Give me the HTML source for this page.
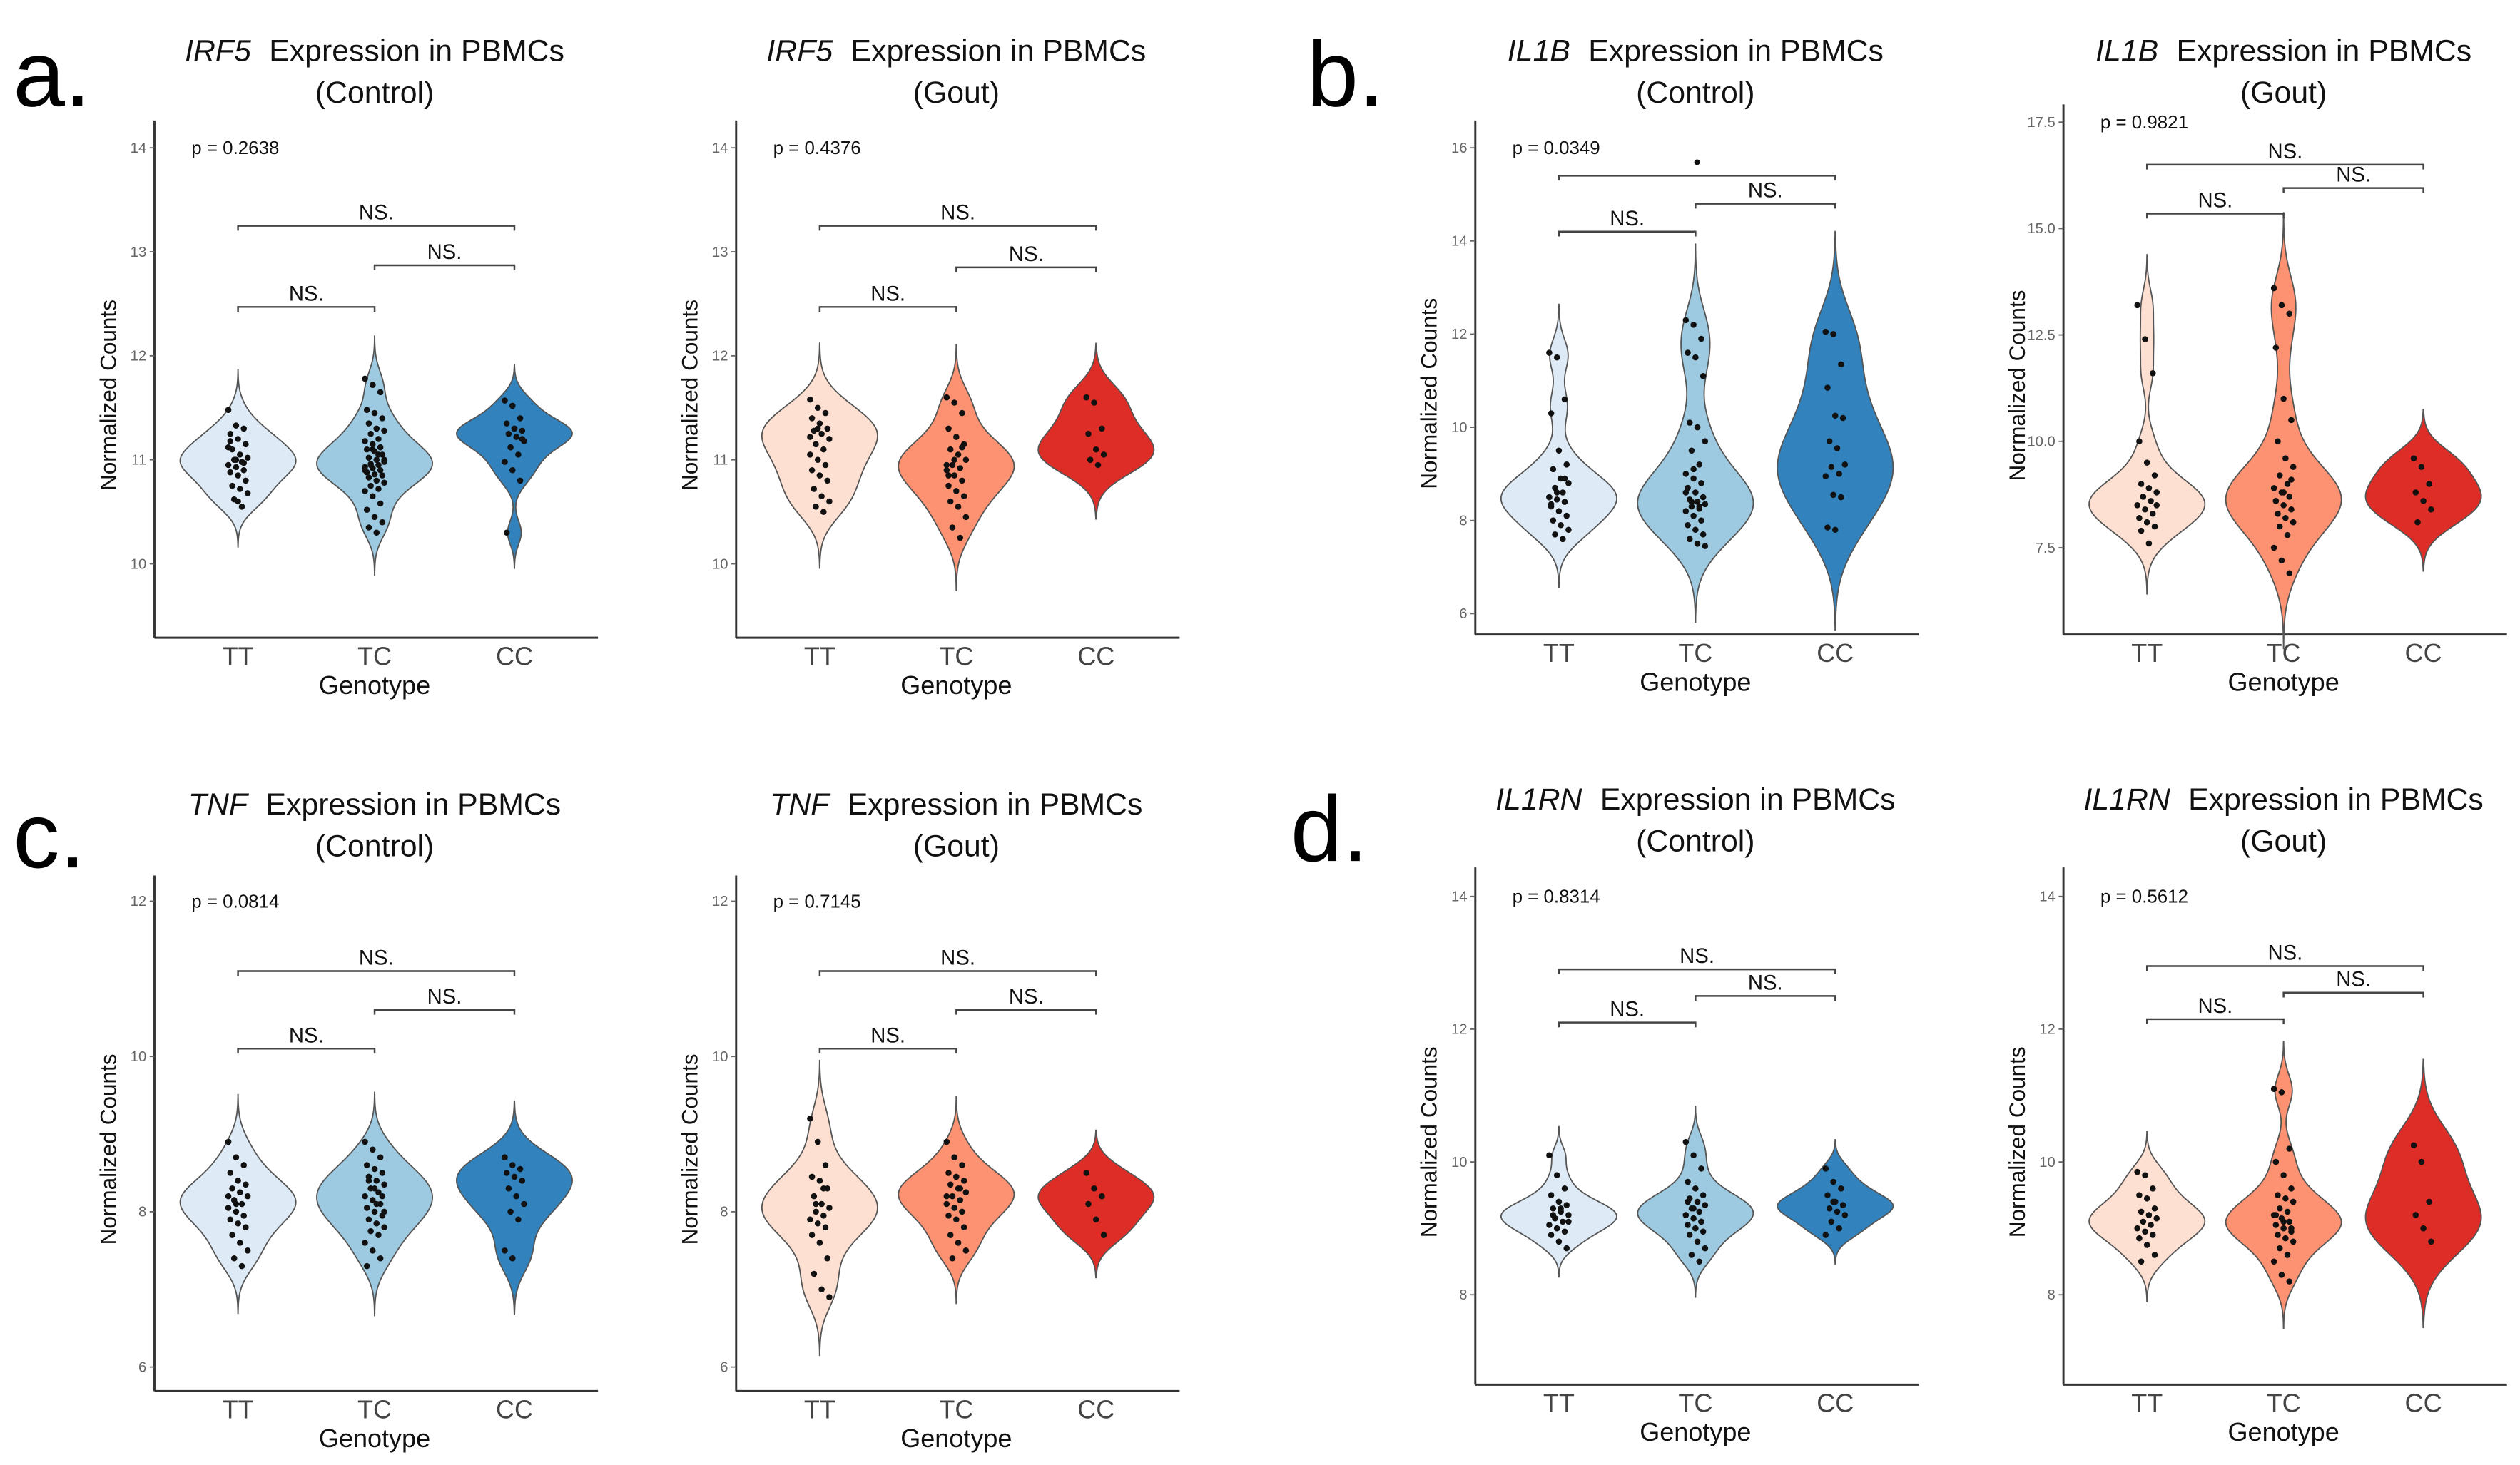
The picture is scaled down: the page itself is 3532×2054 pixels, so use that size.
<!DOCTYPE html>
<html><head><meta charset="utf-8">
<style>
html,body{margin:0;padding:0;background:#fff;}
svg{display:block;}
text{font-family:"Liberation Sans",sans-serif;}
</style></head>
<body>
<svg id="fig" xmlns="http://www.w3.org/2000/svg" width="3532" height="2054" viewBox="0 0 1568 912">
<rect width="1568" height="912" fill="#fff"/>
<text x="8" y="66" font-size="58">a.</text>
<text x="813" y="66" font-size="58">b.</text>
<text x="8" y="540" font-size="58">c.</text>
<text x="803" y="536" font-size="58">d.</text>
</svg>
<script>
const categories = ["TT","TC","CC"];
// IRF5 control
const irf5CtrlTT=[11.48,11.33,11.3,11.25,11.2,11.15,11.1,11.05,11.02,11.0,10.98,10.95,10.93,10.9,10.88,10.85,10.8,10.75,10.72,10.68,10.62,10.55,11.12,11.0,10.97,11.18,10.6];
const irf5CtrlTC=[11.78,11.72,11.65,11.48,11.45,11.4,11.35,11.3,11.28,11.25,11.2,11.18,11.15,11.12,11.1,11.08,11.05,11.02,11.0,10.98,10.96,10.95,10.93,10.92,10.9,10.88,10.86,10.85,10.83,10.8,10.78,10.75,10.72,10.7,10.65,10.58,10.52,10.45,10.4,10.35,10.3,11.0,10.95,11.05,10.9,11.1];
const irf5CtrlCC=[11.57,11.52,11.4,11.35,11.3,11.28,11.25,11.22,11.18,11.12,11.05,10.98,10.9,10.8,10.3,11.3,11.2];
// IRF5 gout
const irf5GoutTT=[11.58,11.5,11.45,11.4,11.35,11.3,11.28,11.25,11.2,11.15,11.1,11.05,11.0,10.95,10.9,10.85,10.8,10.72,10.65,10.6,10.55,10.5,11.22,11.3];
const irf5GoutTC=[11.6,11.55,11.45,11.3,11.22,11.15,11.1,11.05,11.0,10.95,10.92,10.9,10.85,10.8,10.75,10.7,10.65,10.6,10.55,10.45,10.35,10.25,10.95,11.0,11.12,10.85];
const irf5GoutCC=[11.6,11.55,11.3,11.25,11.1,11.05,11.0,10.95];
// IL1B control
const il1bCtrlTT=[11.6,11.5,10.6,10.3,9.5,9.2,9.1,8.9,8.8,8.7,8.6,8.5,8.45,8.4,8.3,8.2,8.1,8.0,7.9,7.8,7.7,7.6,8.5,8.6,8.9,8.35];
const il1bCtrlTC=[12.3,12.2,11.9,11.6,11.5,11.1,10.1,10.0,9.7,9.5,9.2,9.0,8.9,8.8,8.7,8.6,8.5,8.45,8.4,8.35,8.3,8.25,8.2,8.1,8.0,7.9,7.8,7.7,7.6,7.5,7.45,8.4,8.3,8.6,9.1];
const il1bCtrlCC=[12.05,12.0,11.35,10.85,10.25,10.2,9.7,9.55,9.2,9.15,9.0,8.95,8.55,8.5,7.85,7.8];
const il1bCtrlOutlierTC=[15.9];
// IL1B gout
const il1bGoutTT=[13.2,12.4,11.6,10.0,9.5,9.2,9.0,8.9,8.8,8.7,8.6,8.5,8.4,8.3,8.2,8.1,8.0,7.9,7.6,8.5,8.7];
const il1bGoutTC=[13.6,13.2,13.0,12.2,11.0,10.5,10.0,9.6,9.4,9.2,9.0,8.9,8.8,8.7,8.6,8.5,8.4,8.3,8.2,8.1,8.0,7.8,7.5,7.2,6.9,8.6,8.8,9.1];
const il1bGoutCC=[9.6,9.4,9.0,8.8,8.6,8.4,8.1];
// TNF control
const tnfCtrlTT=[8.9,8.7,8.6,8.5,8.4,8.35,8.3,8.25,8.2,8.15,8.1,8.05,8.0,7.95,7.9,7.85,7.8,7.7,7.6,7.5,7.4,7.3,8.2,8.1];
const tnfCtrlTC=[8.9,8.8,8.7,8.6,8.55,8.5,8.45,8.4,8.35,8.3,8.25,8.2,8.15,8.1,8.05,8.0,7.95,7.9,7.85,7.8,7.75,7.7,7.6,7.5,7.4,7.3,8.3,8.2,8.4,8.1,8.0];
const tnfCtrlCC=[8.7,8.6,8.55,8.5,8.45,8.4,8.3,8.2,8.1,8.0,7.9,7.5,7.4];
// TNF gout
const tnfGoutTT=[9.2,8.9,8.6,8.45,8.4,8.3,8.2,8.1,8.05,8.0,7.95,7.9,7.85,7.8,7.7,7.6,7.4,7.2,7.0,6.9,8.1,8.3];
const tnfGoutTC=[8.9,8.7,8.6,8.5,8.45,8.4,8.35,8.3,8.25,8.2,8.15,8.1,8.05,8.0,7.95,7.9,7.8,7.7,7.6,7.5,7.4,8.3,8.2];
const tnfGoutCC=[8.5,8.3,8.2,8.1,7.9,7.7];
// IL1RN control
const il1rnCtrlTT=[10.1,9.8,9.6,9.5,9.4,9.35,9.3,9.25,9.2,9.15,9.1,9.05,9.0,8.95,8.9,8.8,8.7,9.2,9.3,9.1];
const il1rnCtrlTC=[10.3,10.1,9.9,9.7,9.6,9.5,9.45,9.4,9.35,9.3,9.25,9.2,9.15,9.1,9.05,9.0,8.95,8.9,8.8,8.7,8.6,8.5,9.2,9.3,9.1,9.4];
const il1rnCtrlCC=[9.9,9.7,9.6,9.5,9.4,9.35,9.3,9.25,9.2,9.1,9.0,8.9,9.4];
// IL1RN gout
const il1rnGoutTT=[9.85,9.8,9.6,9.5,9.45,9.3,9.25,9.2,9.15,9.1,9.05,9.0,8.95,8.9,8.85,8.75,8.6,8.5,9.2];
const il1rnGoutTC=[11.1,11.05,10.2,10.0,9.8,9.6,9.5,9.45,9.4,9.3,9.25,9.2,9.15,9.1,9.05,9.0,8.95,8.9,8.85,8.8,8.7,8.6,8.5,8.3,8.2,9.2,9.1,9.0];
const il1rnGoutCC=[10.25,10.0,9.4,9.2,9.0,8.8];

const pValues=["0.2638","0.4376","0.0349","0.9821","0.0814","0.7145","0.8314","0.5612"];
const ticksIRF5=[10,11,12,13,14];
const ticksIL1BCtrl=[6,8,10,12,14,16];
const ticksIL1BGout=[7.5,10,12.5,15,17.5];
const tickLabelsIL1BGout=["7.5","10.0","12.5","15.0","17.5"];
const ticksTNF=[6,8,10,12];
const ticksIL1RN=[8,10,12,14];
// bracket heights in data units: [TT-CC, TC-CC, TT-TC]
const bracketsIRF5Ctrl=[13.25,12.87,12.47];
const bracketsIRF5Gout=[13.25,12.85,12.47];
const bracketsIL1BCtrl=[15.4,14.8,14.2];
const bracketsIL1BGout=[16.5,15.95,15.35];
const bracketsTNFCtrl=[11.1,10.6,10.1];
const bracketsTNFGout=[11.1,10.6,10.1];
const bracketsIL1RNCtrl=[12.9,12.5,12.1];
const bracketsIL1RNGout=[12.95,12.55,12.15];
const labelsDefault=["NS.","NS.","NS."];
const labelsIL1BCtrl=["•","NS.","NS."];

const blues=["#deebf7","#9ecae1","#3182bd"];
const reds=["#fee0d2","#fc9272","#de2d26"];

const panels=[
 {id:"irf5-control",gene:"IRF5",grp:"(Control)",x0:96,yt:75,yb:397,vA:14,yA:92,vB:10,yB:351,ticks:ticksIRF5,labels:null,data:[irf5CtrlTT,irf5CtrlTC,irf5CtrlCC],col:blues,p:pValues[0],br:bracketsIRF5Ctrl,bl:labelsDefault,ty:31},
 {id:"irf5-gout",gene:"IRF5",grp:"(Gout)",x0:458,yt:75,yb:397,vA:14,yA:92,vB:10,yB:351,ticks:ticksIRF5,labels:null,data:[irf5GoutTT,irf5GoutTC,irf5GoutCC],col:reds,p:pValues[1],br:bracketsIRF5Gout,bl:labelsDefault,ty:31},
 {id:"il1b-control",gene:"IL1B",grp:"(Control)",x0:918,yt:75,yb:395,vA:16,yA:92,vB:6,yB:382,ticks:ticksIL1BCtrl,labels:null,data:[il1bCtrlTT,il1bCtrlTC,il1bCtrlCC],col:blues,p:pValues[2],br:bracketsIL1BCtrl,bl:labelsIL1BCtrl,ty:31},
 {id:"il1b-gout",gene:"IL1B",grp:"(Gout)",x0:1284,yt:65,yb:395,vA:17.5,yA:76,vB:7.5,yB:341,ticks:ticksIL1BGout,labels:tickLabelsIL1BGout,data:[il1bGoutTT,il1bGoutTC,il1bGoutCC],col:reds,p:pValues[3],br:bracketsIL1BGout,bl:labelsDefault,ty:31},
 {id:"tnf-control",gene:"TNF",grp:"(Control)",x0:96,yt:545,yb:866,vA:12,yA:561,vB:6,yB:851,ticks:ticksTNF,labels:null,data:[tnfCtrlTT,tnfCtrlTC,tnfCtrlCC],col:blues,p:pValues[4],br:bracketsTNFCtrl,bl:labelsDefault,ty:500},
 {id:"tnf-gout",gene:"TNF",grp:"(Gout)",x0:458,yt:545,yb:866,vA:12,yA:561,vB:6,yB:851,ticks:ticksTNF,labels:null,data:[tnfGoutTT,tnfGoutTC,tnfGoutCC],col:reds,p:pValues[5],br:bracketsTNFGout,bl:labelsDefault,ty:500},
 {id:"il1rn-control",gene:"IL1RN",grp:"(Control)",x0:918,yt:540,yb:862,vA:14,yA:558,vB:8,yB:806,ticks:ticksIL1RN,labels:null,data:[il1rnCtrlTT,il1rnCtrlTC,il1rnCtrlCC],col:blues,p:pValues[6],br:bracketsIL1RNCtrl,bl:labelsDefault,ty:497},
 {id:"il1rn-gout",gene:"IL1RN",grp:"(Gout)",x0:1284,yt:540,yb:862,vA:14,yA:558,vB:8,yB:806,ticks:ticksIL1RN,labels:null,data:[il1rnGoutTT,il1rnGoutTC,il1rnGoutCC],col:reds,p:pValues[7],br:bracketsIL1RNGout,bl:labelsDefault,ty:497}
];

const NS="http://www.w3.org/2000/svg";
const svg=document.getElementById("fig");
function mk(tag,attrs,parent){const e=document.createElementNS(NS,tag);for(const k in attrs)e.setAttribute(k,attrs[k]);(parent||svg).appendChild(e);return e;}
const catOffsets=[52,137,224];

function kde(vals){
  const n=vals.length;const m=vals.reduce((a,b)=>a+b,0)/n;
  const sd=Math.sqrt(vals.reduce((a,b)=>a+(b-m)*(b-m),0)/(n-1));
  const s=[...vals].sort((a,b)=>a-b);
  const q=p=>{const i=(n-1)*p,lo=Math.floor(i),hi=Math.ceil(i);return s[lo]+(s[hi]-s[lo])*(i-lo);};
  const iqr=q(0.75)-q(0.25);
  let bw=1.2*0.9*Math.min(sd,iqr/1.34||sd)*Math.pow(n,-0.2);
  const lo=s[0]-3*bw,hi=s[n-1]+3*bw;const pts=[];
  for(let i=0;i<=100;i++){const v=lo+(hi-lo)*i/100;let d=0;for(const x of vals){const z=(v-x)/bw;d+=Math.exp(-0.5*z*z);}pts.push([v,d]);}
  const mx=Math.max(...pts.map(p=>p[1]));return pts.map(p=>[p[0],p[1]/mx]);
}

panels.forEach((P,pi)=>{
  const g=mk("g",{});
  
  
  const k=(P.yB-P.yA)/(P.vB-P.vA);
  const y=v=>P.yA+(v-P.vA)*k;
  const xc=i=>P.x0+catOffsets[i];
  const cx=P.x0+137;
  const t1=mk("text",{x:cx,y:P.ty+7,"font-size":19,"text-anchor":"middle",fill:"#111"},g);
  
  
  const ts=mk("tspan",{"font-style":"italic"},t1);ts.textContent=P.gene;
  const ts2=mk("tspan",{dx:6},t1);ts2.textContent=" Expression in PBMCs";
  const t2=mk("text",{x:cx,y:P.ty+33,"font-size":19,"text-anchor":"middle",fill:"#111"},g);
  
  
  t2.textContent=P.grp;
  const ya=mk("line",{x1:P.x0,y1:P.yt,x2:P.x0,y2:P.yb,stroke:"#333","stroke-width":1.3},g);
  
  
  const xa=mk("line",{x1:P.x0,y1:P.yb,x2:P.x0+276,y2:P.yb,stroke:"#333","stroke-width":1.3},g);
  
  
  P.ticks.forEach((tv,ti)=>{
    const tl=mk("text",{x:P.x0-5,y:y(tv)+3,"font-size":9,"text-anchor":"end",fill:"#666"},g);
    
    
    tl.textContent=P.labels?P.labels[ti]:String(tv);
    mk("line",{x1:P.x0-3,y1:y(tv),x2:P.x0,y2:y(tv),stroke:"#666","stroke-width":0.8},g);
  });
  const yt=mk("text",{transform:`translate(${P.x0-24},${(P.yt+P.yb)/2+10}) rotate(-90)`,"font-size":14,"text-anchor":"middle",fill:"#111"},g);
  
  
  yt.textContent="Normalized Counts";
  categories.forEach((c,i)=>{
    const xl=mk("text",{x:xc(i),y:P.yb+17,"font-size":16,"text-anchor":"middle",fill:"#444"},g);
    
    
    xl.textContent=c;
  });
  const xt=mk("text",{x:cx,y:P.yb+35,"font-size":16,"text-anchor":"middle",fill:"#111"},g);
  
  
  xt.textContent="Genotype";
  const pv=mk("text",{x:P.x0+23,y:P.yA+4,"font-size":11.5,fill:"#111"},g);
  
  
  pv.textContent="p = "+P.p;
  P.data.forEach((vals,i)=>{
    const d=kde(vals);const W=36;
    let path="M"+d.map(p=>`${(xc(i)+p[1]*W).toFixed(2)},${y(p[0]).toFixed(2)}`).join("L");
    path+="L"+d.slice().reverse().map(p=>`${(xc(i)-p[1]*W).toFixed(2)},${y(p[0]).toFixed(2)}`).join("L")+"Z";
    const v=mk("path",{d:path,fill:P.col[i],stroke:"#555","stroke-width":0.8},g);
    
    
    vals.forEach((val,j)=>{
      const jit=(((j*37)%11)/10-0.5)*12;
      const c=mk("circle",{cx:xc(i)+jit,cy:y(val),r:1.9,fill:"#111"},g);
      
      
    });
  });
  const pairs=[[0,2],[1,2],[0,1]];
  pairs.forEach((pr,bi)=>{
    const by=y(P.br[bi]);
    const b=mk("path",{d:`M${xc(pr[0])},${by+3}V${by}H${xc(pr[1])}V${by+3}`,fill:"none",stroke:"#444","stroke-width":1.1},g);
    
    
    const bt=mk("text",{x:(xc(pr[0])+xc(pr[1]))/2,y:by-4,"font-size":13,"text-anchor":"middle",fill:"#111"},g);
    
    
    bt.textContent=P.bl[bi];
  });
});
</script>
</body></html>
